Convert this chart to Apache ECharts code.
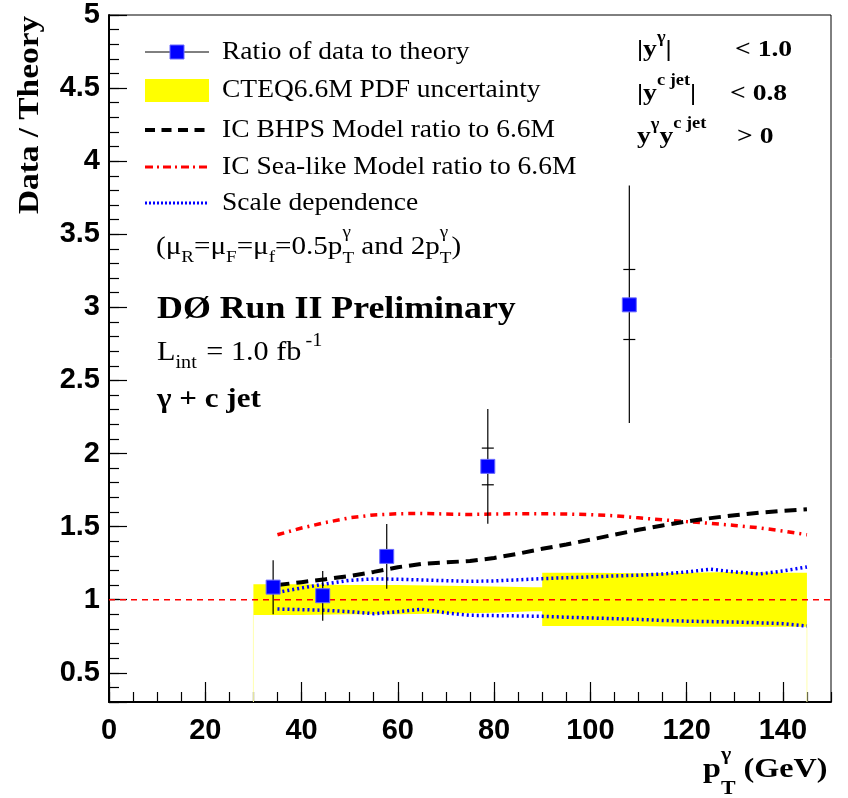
<!DOCTYPE html>
<html><head><meta charset="utf-8">
<script src="https://cdn.jsdelivr.net/npm/echarts@6/dist/echarts.min.js"></script>
<style>html,body{margin:0;padding:0;background:#fff}#c{width:848px;height:798px}</style>
</head><body><div id="c"></div>
<script>
// ---- data ----
const xMin = 0, xMax = 150, yMin = 0.3, yMax = 5;
const dataX  = [34.1, 44.4, 57.7, 78.7, 108.1];
const dataY  = [1.086, 1.027, 1.296, 1.912, 3.017];
const totLo  = [0.900, 0.856, 1.074, 1.520, 2.208];
const totHi  = [1.270, 1.196, 1.518, 2.304, 3.833];
const statLo = [1.045, 0.990, 1.255, 1.786, 2.780];
const statHi = [1.125, 1.065, 1.340, 2.037, 3.259];
const bandX  = [30, 40, 50, 60, 70, 80, 88, 90, 90, 100, 110, 120, 130, 140, 145];
const bandHi = [1.105, 1.105, 1.100, 1.100, 1.095, 1.090, 1.085, 1.085, 1.185, 1.185, 1.180, 1.185, 1.190, 1.185, 1.185];
const bandLo = [0.895, 0.895, 0.900, 0.900, 0.905, 0.910, 0.920, 0.920, 0.820, 0.820, 0.820, 0.815, 0.815, 0.815, 0.815];
const modelX  = [35, 40, 45, 50, 55, 60, 65, 70, 75, 80, 85, 90, 95, 100, 105, 110, 115, 120, 125, 130, 135, 140, 145];
const bhps    = [1.100, 1.120, 1.140, 1.162, 1.190, 1.222, 1.245, 1.255, 1.265, 1.285, 1.315, 1.348, 1.378, 1.410, 1.445, 1.478, 1.508, 1.535, 1.558, 1.578, 1.595, 1.608, 1.618];
const sea     = [1.444, 1.490, 1.528, 1.560, 1.580, 1.588, 1.590, 1.586, 1.583, 1.586, 1.588, 1.588, 1.586, 1.582, 1.574, 1.560, 1.546, 1.534, 1.522, 1.508, 1.492, 1.470, 1.444];
const scaleUp = [1.050, 1.080, 1.108, 1.132, 1.142, 1.140, 1.135, 1.130, 1.126, 1.128, 1.136, 1.144, 1.150, 1.156, 1.162, 1.168, 1.176, 1.190, 1.208, 1.190, 1.176, 1.196, 1.224];
const scaleDn = [0.936, 0.932, 0.927, 0.918, 0.904, 0.918, 0.934, 0.910, 0.893, 0.891, 0.889, 0.886, 0.880, 0.875, 0.870, 0.865, 0.858, 0.853, 0.850, 0.847, 0.842, 0.836, 0.820];
const unityX = [xMin, xMax];
const unityY = [1, 1];
const legendNames = ['Ratio of data to theory', 'CTEQ6.6M PDF uncertainty', 'IC BHPS Model ratio to 6.6M', 'IC Sea-like Model ratio to 6.6M', 'Scale dependence'];

// ---- text helpers ----
const SERIF = '"Liberation Serif", "Times New Roman", serif';
const SANS = '"Liberation Sans", Arial, sans-serif';
const ctx = document.createElement('canvas').getContext('2d');
function fontStr(s, b) { return (b ? 'bold ' : '') + s + 'px ' + SERIF; }
function tw(t, f) { ctx.font = f; return ctx.measureText(t).width; }
function txt(x, y, t, f, scale, extra) {
  return Object.assign({
    type: 'text', x: x, y: y, scaleX: scale, silent: true, z: 100,
    style: { text: t, font: f, fill: '#000', align: 'left', verticalAlign: 'middle', textAlign: 'left', textVerticalAlign: 'middle' }
  }, extra || {});
}
function chain(x0, yc, scale, pieces) {
  let x = x0; const out = [];
  for (const p of pieces) {
    if (p.x !== undefined) x = p.x;
    const f = fontStr(p.s, p.b);
    out.push(txt(x, yc + (p.dy || 0), p.t, f, scale));
    if (!p.na) x += tw(p.t, f) * scale + (p.gap || 0);
  }
  return out;
}

const graphics = [];
// legend symbols
const LX1 = 145, LX2 = 209, LY = [52, 90, 130, 167, 203];
graphics.push({ type: 'line', silent: true, z: 100, shape: { x1: LX1, y1: LY[0], x2: LX2, y2: LY[0] }, style: { stroke: '#000', lineWidth: 1 } });
graphics.push({ type: 'rect', silent: true, z: 101, shape: { x: 170, y: LY[0] - 7, width: 14, height: 14 }, style: { fill: '#0000ff', stroke: '#6a6aff', lineWidth: 1 } });
graphics.push({ type: 'rect', silent: true, z: 100, shape: { x: LX1, y: LY[1] - 11, width: LX2 - LX1, height: 23 }, style: { fill: '#ffff00' } });
graphics.push({ type: 'line', silent: true, z: 100, shape: { x1: LX1, y1: LY[2], x2: LX2, y2: LY[2] }, style: { stroke: '#000', lineWidth: 4, lineDash: [10, 6.5] } });
graphics.push({ type: 'line', silent: true, z: 100, shape: { x1: LX1, y1: LY[3], x2: LX2, y2: LY[3] }, style: { stroke: '#ff0000', lineWidth: 3, lineDash: [8, 4, 2, 4] } });
graphics.push({ type: 'line', silent: true, z: 100, shape: { x1: LX1, y1: LY[4], x2: LX2, y2: LY[4] }, style: { stroke: '#0000ff', lineWidth: 3, lineDash: [2, 2] } });
legendNames.forEach((n, i) => graphics.push(txt(222, LY[i], n, fontStr(25, false), 1.1)));

// scale line note
graphics.push(...chain(156, 247, 1.12, [
  { t: '(\u03bc', s: 26 }, { t: 'R', s: 17, dy: 11 }, { t: '=\u03bc', s: 26 }, { t: 'F', s: 17, dy: 11 },
  { t: '=\u03bc', s: 26 }, { t: 'f', s: 17, dy: 11 }, { t: '=0.5p', s: 26 },
  { t: '\u03b3', s: 17, dy: -14, na: true }, { t: 'T', s: 17, dy: 12 },
  { t: ' and 2p', s: 26 }, { t: '\u03b3', s: 17, dy: -14, na: true }, { t: 'T', s: 17, dy: 12 }, { t: ')', s: 26 }
]));
graphics.push(txt(157, 310, 'D\u00d8 Run II Preliminary', fontStr(32, true), 1.12));
graphics.push(...chain(157, 353, 1.12, [
  { t: 'L', s: 27 }, { t: 'int', s: 18, dy: 10, gap: 2 }, { t: ' = 1.0 fb', s: 27, gap: 4 }, { t: '-1', s: 18, dy: -12 }
]));
graphics.push(txt(157, 400, '\u03b3 + c jet', fontStr(27, true), 1.15));

// cuts
graphics.push(...chain(637, 50, 1.15, [
  { t: '|y', s: 24, b: true }, { t: '\u03b3', s: 16, b: true, dy: -12 }, { t: '|', s: 24, b: true },
  { t: '< 1.0', s: 24, b: true, x: 735 }
]));
graphics.push(...chain(637, 94, 1.15, [
  { t: '|y', s: 24, b: true }, { t: 'c jet', s: 16, b: true, dy: -13 }, { t: '|', s: 24, b: true },
  { t: '< 0.8', s: 24, b: true, x: 730 }
]));
graphics.push(...chain(637, 137, 1.15, [
  { t: 'y', s: 24, b: true }, { t: '\u03b3', s: 16, b: true, dy: -12 }, { t: 'y', s: 24, b: true },
  { t: 'c jet', s: 16, b: true, dy: -13 }, { t: '> 0', s: 24, b: true, x: 737 }
]));

// axis titles
const yTitle = txt(31, 115, 'Data / Theory', fontStr(29, true), 1.15, { rotation: Math.PI / 2 });
yTitle.style.align = 'center'; yTitle.style.textAlign = 'center';
graphics.push(yTitle);
graphics.push(...chain(703, 770, 1.15, [
  { t: 'p', s: 28, b: true }, { t: '\u03b3', s: 19, b: true, dy: -15, na: true }, { t: 'T', s: 19, b: true, dy: 19 },
  { t: ' (GeV)', s: 28, b: true }
]));

// ---- chart ----
const tickStyle = { color: '#000', width: 1.2 };
const axisFont = { fontFamily: SANS, fontWeight: 'bold', fontSize: 29, color: '#000' };
const chart = echarts.init(document.getElementById('c'), null, { renderer: 'canvas' });
chart.setOption({
  animation: false,
  backgroundColor: '#fff',
  grid: { left: 109, right: 17, top: 15, bottom: 96, show: true, borderColor: '#000', borderWidth: 1, backgroundColor: 'transparent' },
  xAxis: [
    { type: 'value', min: xMin, max: xMax, interval: 20, position: 'bottom',
      axisLine: { show: true, onZero: false, lineStyle: { color: '#000', width: 2 } },
      axisTick: { show: true, inside: true, length: 20, lineStyle: tickStyle },
      axisLabel: Object.assign({ margin: 14, showMaxLabel: false, formatter: v => (v > 140 ? '' : String(v)) }, axisFont),
      splitLine: { show: false } },
    { type: 'value', min: xMin, max: xMax, interval: 5, position: 'bottom',
      axisLine: { show: false }, axisTick: { show: true, inside: true, length: 10, lineStyle: tickStyle },
      axisLabel: { show: false }, splitLine: { show: false } }
  ],
  yAxis: [
    { type: 'value', min: yMin, max: yMax, splitNumber: 10, position: 'left',
      axisLine: { show: true, onZero: false, lineStyle: { color: '#000', width: 2 } },
      axisTick: { show: true, inside: true, length: 18, lineStyle: tickStyle },
      axisLabel: Object.assign({ margin: 9, formatter: v => (v < 0.45 ? '' : String(v)) }, axisFont),
      splitLine: { show: false } },
    { type: 'value', min: yMin, max: yMax, interval: 0.1, position: 'left',
      axisLine: { show: false }, axisTick: { show: true, inside: true, length: 10, lineStyle: tickStyle },
      axisLabel: { show: false }, splitLine: { show: false } }
  ],
  series: [
    { type: 'custom', name: legendNames[1], z: 1, silent: true, clip: false,
      data: [[bandX[0], bandLo[0]]],
      renderItem: (params, api) => {
        const top = bandX.map((x, i) => api.coord([x, bandHi[i]]));
        const bot = bandX.map((x, i) => api.coord([x, bandLo[i]]));
        const yb = api.coord([xMin, yMin])[1];
        const f = bot[0], l = bot[bot.length - 1];
        return { type: 'group', children: [
          { type: 'polygon', shape: { points: top.concat(bot.slice().reverse()) }, style: { fill: '#ffff00' } },
          { type: 'line', shape: { x1: f[0], y1: f[1], x2: f[0], y2: yb }, style: { stroke: '#ffffb0', lineWidth: 1 } },
          { type: 'line', shape: { x1: l[0], y1: l[1], x2: l[0], y2: yb }, style: { stroke: '#ffffb0', lineWidth: 1 } }
        ] };
      } },
    { type: 'line', name: 'unity', z: 2, silent: true, symbol: 'none',
      data: unityX.map((x, i) => [x, unityY[i]]),
      lineStyle: { color: '#ff0000', width: 1.5, type: [6, 5] } },
    { type: 'line', name: legendNames[4] + ' up', z: 3, silent: true, symbol: 'none',
      data: modelX.map((x, i) => [x, scaleUp[i]]), lineStyle: { color: '#0000ff', width: 3.5, type: [2, 3] } },
    { type: 'line', name: legendNames[4] + ' down', z: 3, silent: true, symbol: 'none',
      data: modelX.map((x, i) => [x, scaleDn[i]]), lineStyle: { color: '#0000ff', width: 3.5, type: [2, 3] } },
    { type: 'line', name: legendNames[3], z: 4, silent: true, symbol: 'none',
      data: modelX.map((x, i) => [x, sea[i]]), lineStyle: { color: '#ff0000', width: 3.5, type: [7, 5, 2, 5] } },
    { type: 'line', name: legendNames[2], z: 4, silent: true, symbol: 'none',
      data: modelX.map((x, i) => [x, bhps[i]]), lineStyle: { color: '#000', width: 4, type: [12, 7] } },
    { type: 'custom', name: 'errors', z: 5, silent: true,
      data: dataX.map((x, i) => [x, totLo[i], totHi[i], statLo[i], statHi[i]]),
      encode: { x: 0, y: [1, 2] },
      renderItem: (params, api) => {
        const x = api.value(0);
        const a = api.coord([x, api.value(1)]), b = api.coord([x, api.value(2)]);
        const s1 = api.coord([x, api.value(3)]), s2 = api.coord([x, api.value(4)]);
        const st = { stroke: '#000', lineWidth: 1.2 };
        return { type: 'group', children: [
          { type: 'line', shape: { x1: a[0], y1: a[1], x2: b[0], y2: b[1] }, style: st },
          { type: 'line', shape: { x1: s1[0] - 6, y1: s1[1], x2: s1[0] + 6, y2: s1[1] }, style: st },
          { type: 'line', shape: { x1: s2[0] - 6, y1: s2[1], x2: s2[0] + 6, y2: s2[1] }, style: st }
        ] };
      } },
    { type: 'scatter', name: legendNames[0], z: 10, silent: true, symbol: 'rect', symbolSize: 14,
      data: dataX.map((x, i) => [x, dataY[i]]),
      itemStyle: { color: '#0000ff', borderColor: '#6a6aff', borderWidth: 1, opacity: 1 } }
  ],
  graphic: graphics
});
</script>
</body></html>
